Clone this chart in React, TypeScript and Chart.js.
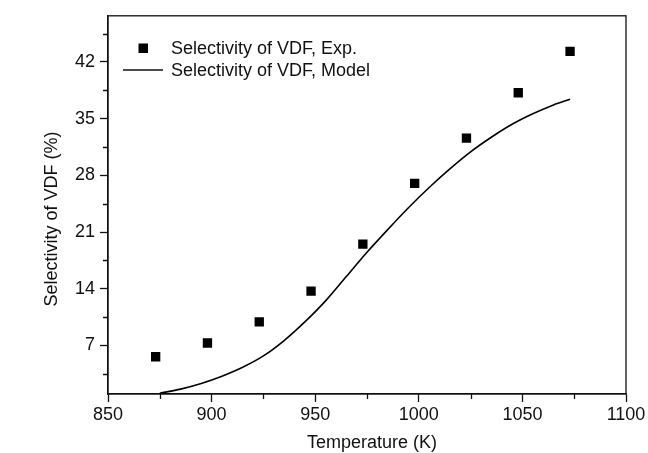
import React, { useEffect, useRef } from 'react';
import { Chart, registerables } from 'chart.js';

Chart.register(...registerables);

const expTemps = [873, 898, 923, 948, 973, 998, 1023, 1048, 1073];
const expSelectivity = [5.6, 7.3, 9.9, 13.7, 19.5, 27.0, 32.6, 38.2, 43.3];

const modelTemps = [875, 885, 895, 905, 915, 925, 935, 945, 955, 965, 975, 985, 995, 1005, 1015, 1025, 1035, 1045, 1055, 1065, 1073];
const modelSelectivity = [1.1, 1.6, 2.3, 3.2, 4.3, 5.7, 7.6, 9.9, 12.5, 15.5, 18.5, 21.3, 24.0, 26.5, 28.8, 30.9, 32.7, 34.3, 35.6, 36.7, 37.4];

const yTicks = [7, 14, 21, 28, 35, 42];
const yMinorTicks = [3.5, 10.5, 17.5, 24.5, 31.5, 38.5, 45.5];
const xMinorTicks = [875, 925, 975, 1025, 1075];

const legendLabels = ['Selectivity of VDF, Exp.', 'Selectivity of VDF, Model'];
const xTitle = 'Temperature (K)';
const yTitle = 'Selectivity of VDF (%)';

const FONT = '"Liberation Sans", Arial, Helvetica, sans-serif';
const INK = '#111111';

const decorPlugin = {
  id: 'decor',
  afterDraw(chart: any) {
    const { ctx, chartArea } = chart;
    const xs = chart.scales.x;
    const ys = chart.scales.y;
    ctx.save();
    ctx.strokeStyle = INK;
    ctx.lineWidth = 1.3;
    ctx.strokeRect(chartArea.left, chartArea.top, chartArea.right - chartArea.left, chartArea.bottom - chartArea.top);
    // minor ticks
    ctx.beginPath();
    yMinorTicks.forEach((v) => {
      const py = Math.round(ys.getPixelForValue(v)) + 0.5;
      ctx.moveTo(chartArea.left - 5, py);
      ctx.lineTo(chartArea.left, py);
    });
    xMinorTicks.forEach((v) => {
      const px = Math.round(xs.getPixelForValue(v)) + 0.5;
      ctx.moveTo(px, chartArea.bottom);
      ctx.lineTo(px, chartArea.bottom + 5);
    });
    ctx.stroke();

    // legend
    ctx.fillStyle = '#000';
    ctx.fillRect(138.5, 43.5, 9.5, 9.5);
    ctx.beginPath();
    ctx.lineWidth = 1.5;
    ctx.moveTo(123, 70);
    ctx.lineTo(163, 70);
    ctx.stroke();
    ctx.fillStyle = INK;
    ctx.font = `18px ${FONT}`;
    ctx.textBaseline = 'middle';
    ctx.textAlign = 'left';
    ctx.fillText(legendLabels[0], 171, 49);
    ctx.fillText(legendLabels[1], 171, 71);

    // axis titles
    ctx.textAlign = 'center';
    ctx.fillText(xTitle, 372, 443);
    ctx.translate(52, 219);
    ctx.rotate(-Math.PI / 2);
    ctx.fillText(yTitle, 0, 0);
    ctx.restore();
  },
};

export default function App() {
  const ref = useRef<HTMLCanvasElement>(null);

  useEffect(() => {
    if (!ref.current) return;
    const chart = new Chart(ref.current, {
      type: 'scatter',
      data: {
        datasets: [
          {
            label: legendLabels[0],
            data: expTemps.map((t, i) => ({ x: t, y: expSelectivity[i] })),
            pointStyle: 'rect',
            pointRadius: 6.6,
            backgroundColor: '#000',
            borderColor: '#000',
            borderWidth: 0,
            showLine: false,
          },
          {
            label: legendLabels[1],
            data: modelTemps.map((t, i) => ({ x: t, y: modelSelectivity[i] })),
            showLine: true,
            pointRadius: 0,
            borderColor: '#000',
            borderWidth: 1.6,
            cubicInterpolationMode: 'monotone',
            fill: false,
          },
        ],
      } as any,
      options: {
        animation: false,
        responsive: false,
        devicePixelRatio: 1,
        layout: { padding: { left: 0, right: 22, top: 13, bottom: 0 } },
        plugins: {
          legend: { display: false },
          tooltip: { enabled: false },
        },
        scales: {
          x: {
            type: 'linear',
            min: 850,
            max: 1100,
            ticks: {
              stepSize: 50,
              color: INK,
              font: { family: FONT, size: 18 },
              padding: 2,
              maxRotation: 0,
              callback: (v: any) => String(v),
            },
            grid: {
              drawOnChartArea: false,
              drawTicks: true,
              tickLength: 8,
              tickColor: INK,
              tickWidth: 1.3,
            },
            border: { display: true, color: INK, width: 1.3 },
            afterFit: (s: any) => {
              s.height = 59;
            },
          },
          y: {
            type: 'linear',
            min: 1.0,
            max: 47.7,
            afterBuildTicks: (s: any) => {
              s.ticks = yTicks.map((v) => ({ value: v }));
            },
            ticks: {
              color: INK,
              font: { family: FONT, size: 18 },
              padding: 5,
              callback: (v: any) => String(v),
            },
            grid: {
              drawOnChartArea: false,
              drawTicks: true,
              tickLength: 8,
              tickColor: INK,
              tickWidth: 1.3,
            },
            border: { display: true, color: INK, width: 1.3 },
            afterFit: (s: any) => {
              s.width = 108;
            },
          },
        },
      } as any,
      plugins: [decorPlugin],
    });
    return () => chart.destroy();
  }, []);

  return (
    <div style={{ position: 'fixed', left: 0, top: 0, width: 648, height: 453, background: '#fff' }}>
      <canvas ref={ref} width={648} height={453} style={{ width: 648, height: 453, display: 'block' }} />
    </div>
  );
}
